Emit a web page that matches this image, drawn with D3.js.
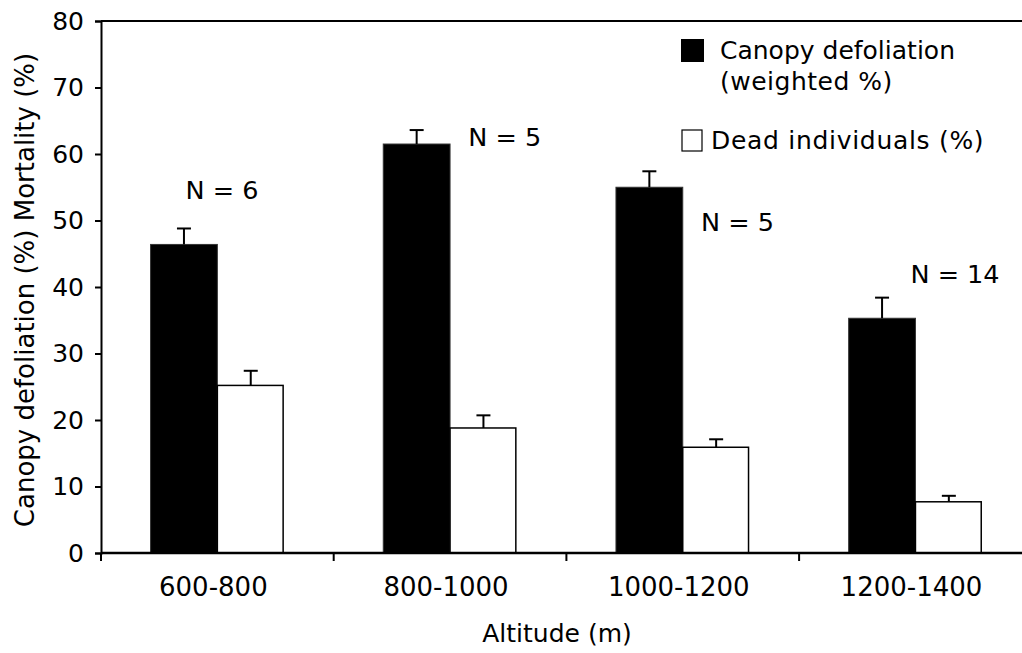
<!DOCTYPE html>
<html>
<head>
<meta charset="utf-8">
<script src="https://cdn.jsdelivr.net/npm/d3@7/dist/d3.min.js"></script>
<style>
  html, body { margin: 0; padding: 0; background: #fff; }
  svg { display: block; }
  text { font-family: "DejaVu Sans", Verdana, sans-serif; fill: #000; }
</style>
</head>
<body>
<svg id="chart" width="1022" height="653"></svg>
<script>
// ---- data ----
const categories = ["600-800", "800-1000", "1000-1200", "1200-1400"];
const defoliation = [46.4, 61.5, 55.0, 35.3];
const defoliationErr = [2.4, 2.1, 2.4, 3.1];
const mortality = [25.2, 18.8, 15.9, 7.7];
const mortalityErr = [2.2, 1.9, 1.2, 0.9];
const nLabels = ["N = 6", "N = 5", "N = 5", "N = 14"];
const nLabelValue = [53.2, 61.2, 48.4, 40.6];      // y position in data units
const nLabelOffset = [0.02, 0.235, 0.235, 0.17];   // x offset as fraction of band
const yTicks = [0, 10, 20, 30, 40, 50, 60, 70, 80];
const seriesNames = ["Canopy defoliation", "(weighted %)", "Dead individuals (%)"];

// ---- layout ----
const W = 1022, H = 653;
const mLeft = 101, mTop = 21, mBottom = 553;
const bandW = 232.7;

const svg = d3.select("#chart");

const x = d3.scaleBand().domain(categories).range([mLeft, mLeft + bandW * categories.length]).padding(0);
const y = d3.scaleLinear().domain([0, 80]).range([mBottom, mTop]);

const barW = x.bandwidth() * 0.287;

// top frame line
svg.append("line")
  .attr("x1", mLeft).attr("x2", W)
  .attr("y1", y(80)).attr("y2", y(80))
  .attr("stroke", "#000").attr("stroke-width", 2);

// bars: defoliation (black)
svg.append("g").selectAll("rect").data(categories).join("rect")
  .attr("x", (d) => x(d) + x.bandwidth() / 2 - barW)
  .attr("y", (d, i) => y(defoliation[i]))
  .attr("width", barW)
  .attr("height", (d, i) => y(0) - y(defoliation[i]))
  .attr("fill", "#000")
  .attr("stroke", "#333").attr("stroke-width", 1);

// bars: mortality (white)
svg.append("g").selectAll("rect").data(categories).join("rect")
  .attr("x", (d) => x(d) + x.bandwidth() / 2)
  .attr("y", (d, i) => y(mortality[i]))
  .attr("width", barW - 1)
  .attr("height", (d, i) => y(0) - y(mortality[i]))
  .attr("fill", "#fff")
  .attr("stroke", "#000").attr("stroke-width", 1.5);

// error bars
function errorBars(vals, errs, offsetFn) {
  const g = svg.append("g").attr("stroke", "#000").attr("stroke-width", 2);
  categories.forEach((c, i) => {
    const cx = offsetFn(c);
    g.append("line").attr("x1", cx).attr("x2", cx)
      .attr("y1", y(vals[i])).attr("y2", y(vals[i] + errs[i]));
    g.append("line").attr("x1", cx - 7).attr("x2", cx + 7)
      .attr("y1", y(vals[i] + errs[i])).attr("y2", y(vals[i] + errs[i]));
  });
}
errorBars(defoliation, defoliationErr, (c) => x(c) + x.bandwidth() / 2 - barW / 2);
errorBars(mortality, mortalityErr, (c) => x(c) + x.bandwidth() / 2 + barW / 2);

// y axis
const yAxis = svg.append("g")
  .attr("transform", `translate(${mLeft},0)`)
  .call(d3.axisLeft(y).tickValues(yTicks).tickSize(6).tickPadding(11));
yAxis.selectAll("text").style("font-size", "25px").style("font-family", "DejaVu Sans, Verdana, sans-serif");
yAxis.select(".domain").attr("stroke-width", 2);
yAxis.selectAll(".tick line").attr("stroke-width", 2);

// x axis (labels centered, ticks at band boundaries)
const xAxis = svg.append("g")
  .attr("transform", `translate(0,${mBottom})`)
  .call(d3.axisBottom(x).tickSize(0).tickPadding(25));
xAxis.select(".domain").attr("stroke-width", 2.5).attr("d", `M${mLeft},0H${mLeft + bandW * categories.length}`);
xAxis.selectAll("text").style("font-size", "26px").attr("dx", "-4px")
  .style("font-family", "DejaVu Sans, Verdana, sans-serif");
svg.append("g").selectAll("line").data(categories).join("line")
  .attr("x1", (d) => x(d)).attr("x2", (d) => x(d))
  .attr("y1", mBottom).attr("y2", mBottom + 8)
  .attr("stroke", "#000").attr("stroke-width", 2);

// N labels
svg.append("g").selectAll("text").data(nLabels).join("text")
  .attr("x", (d, i) => x(categories[i]) + x.bandwidth() * (0.5 + nLabelOffset[i]))
  .attr("y", (d, i) => y(nLabelValue[i]))
  .attr("text-anchor", "middle")
  .style("font-size", "25.5px")
  .text((d) => d);

// axis titles
svg.append("text")
  .attr("x", 557).attr("y", 642)
  .attr("text-anchor", "middle")
  .style("font-size", "25px")
  .text("Altitude (m)");

svg.append("text")
  .attr("transform", `translate(34,${(mTop + mBottom) / 2 + 3}) rotate(-90)`)
  .attr("text-anchor", "middle")
  .style("font-size", "26px")
  .text("Canopy defoliation (%) Mortality (%)");

// legend
const lg = svg.append("g");
lg.append("rect").attr("x", 681).attr("y", 39).attr("width", 23).attr("height", 23).attr("fill", "#000");
lg.append("text").attr("x", 720).attr("y", 59).style("font-size", "25px").text(seriesNames[0]);
lg.append("text").attr("x", 720).attr("y", 90).style("font-size", "25px").style("letter-spacing", "0.5px").text(seriesNames[1]);
lg.append("rect").attr("x", 682).attr("y", 130).attr("width", 20).attr("height", 21)
  .attr("fill", "#fff").attr("stroke", "#000").attr("stroke-width", 1.2);
lg.append("text").attr("x", 711).attr("y", 149).style("font-size", "25px").style("letter-spacing", "0.7px").text(seriesNames[2]);
</script>
</body>
</html>
